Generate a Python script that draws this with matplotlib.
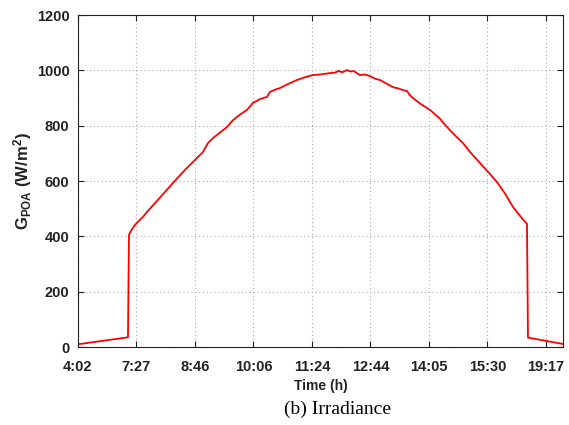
import matplotlib
matplotlib.use('Agg')
import matplotlib.pyplot as plt

# sample position (in tick units) and plane-of-array irradiance
pos = [0, 0.855, 0.872, 0.906, 0.974, 1.060, 1.111, 1.179, 1.402, 1.624, 1.829,
       2.034, 2.137, 2.222, 2.308, 2.427, 2.547, 2.650, 2.769, 2.889, 2.991,
       3.111, 3.231, 3.282, 3.368, 3.453, 3.624, 3.744, 3.880, 4.017, 4.137,
       4.308, 4.400, 4.450, 4.520, 4.598, 4.650, 4.720, 4.780, 4.821, 4.906,
       4.991, 5.077, 5.162, 5.248, 5.333, 5.400, 5.453, 5.538, 5.624, 5.675,
       5.726, 5.846, 6.017, 6.188, 6.308, 6.444, 6.581, 6.701, 6.872, 7.043,
       7.162, 7.299, 7.436, 7.504, 7.590, 7.675, 7.692, 8.291]
gpoa = [10, 35, 405, 420, 441, 460, 470, 488, 540, 593, 640,
        683, 705, 737, 755, 775, 795, 820, 840, 857, 882,
        896, 904, 922, 930, 936, 954, 965, 975, 983, 985,
        990, 992, 998, 993, 1001, 996, 997, 988, 983, 985,
        979, 970, 965, 955, 945, 938, 936, 930, 925, 910,
        900, 880, 857, 825, 795, 765, 737, 705, 665, 625,
        596, 555, 506, 488, 465, 445, 34, 11]

tick_labels = ['4:02', '7:27', '8:46', '10:06', '11:24', '12:44', '14:05', '15:30', '19:17']

plt.rcParams['font.family'] = ['Liberation Sans', 'DejaVu Sans']
plt.rcParams['mathtext.fontset'] = 'custom'
plt.rcParams['mathtext.rm'] = 'Liberation Sans:bold'
plt.rcParams['mathtext.bf'] = 'Liberation Sans:bold'
plt.rcParams['mathtext.it'] = 'Liberation Sans:bold'

fig = plt.figure(figsize=(5.69, 4.25), dpi=100)
ax = fig.add_axes([0.137, 0.1835, 0.8525, 0.7812])

ax.plot(pos, gpoa, color='red', lw=1.3)

ax.set_xlim(0, 8.291)
ax.set_ylim(0, 1200)
ax.set_xticks(range(len(tick_labels)))
ax.set_xticklabels(tick_labels)
ax.set_yticks(range(0, 1201, 200))

ax.grid(True, linestyle=(0, (1, 2.5)), color='#aaaaaa', lw=0.8)
ax.tick_params(direction='in', top=True, right=True, length=4, labelsize=10.5,
               colors='#222222', labelcolor='#222222')
ax.tick_params(axis='x', pad=9)
ax.tick_params(axis='y', pad=6)
for lab in ax.get_xticklabels() + ax.get_yticklabels():
    lab.set_fontweight('bold')
for s in ax.spines.values():
    s.set_color('#222222')

ax.set_xlabel('Time (h)', fontsize=10, fontweight='bold', color='#222222', labelpad=4)
ax.set_ylabel(r'G$_{\mathrm{POA}}$ (W/m$^{\mathrm{2}}$)', fontsize=12, fontweight='bold',
              color='#222222', labelpad=2)

fig.text(0.594, 0.037, '(b) Irradiance', family='Liberation Serif', fontsize=14,
         ha='center', va='center')

fig.savefig('out.png', dpi=100)
